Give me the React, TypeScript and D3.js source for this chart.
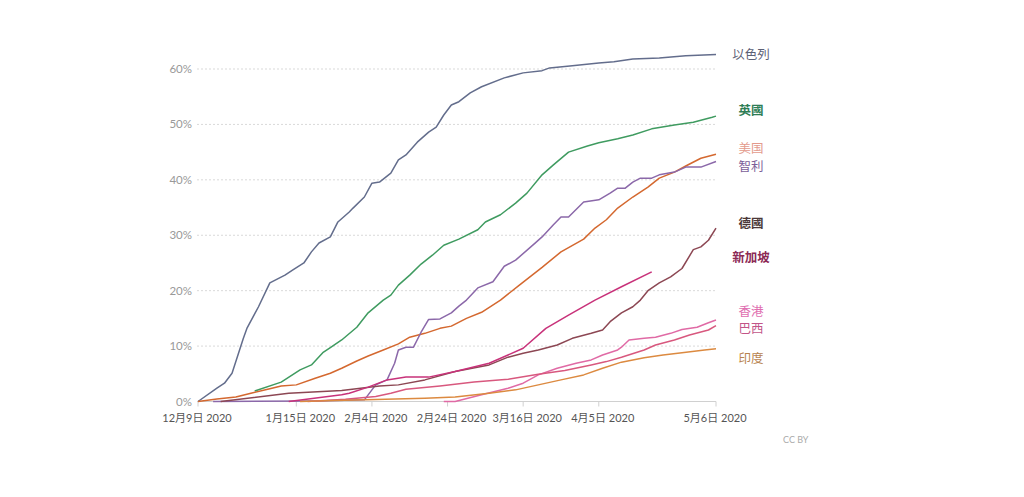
import React from "react";
import * as d3 from "d3";

type Pt = [string, number];

// Share of population that received at least one vaccine dose (%)
const israel: Pt[] = [["2020-12-20",0],["2020-12-25",2.4],["2020-12-27",3.3],["2020-12-29",5.1],["2021-01-01",11.4],["2021-01-02",13.3],["2021-01-05",17.1],["2021-01-08",21.4],["2021-01-12",22.8],["2021-01-14",23.7],["2021-01-17",25.0],["2021-01-19",27.0],["2021-01-21",28.6],["2021-01-24",29.7],["2021-01-26",32.4],["2021-01-29",34.2],["2021-01-30",34.9],["2021-02-02",36.9],["2021-02-04",39.4],["2021-02-06",39.6],["2021-02-09",41.2],["2021-02-11",43.6],["2021-02-13",44.5],["2021-02-16",46.8],["2021-02-19",48.6],["2021-02-21",49.5],["2021-02-23",51.7],["2021-02-25",53.5],["2021-02-27",54.1],["2021-03-02",55.7],["2021-03-05",56.8],["2021-03-11",58.4],["2021-03-16",59.3],["2021-03-21",59.7],["2021-03-23",60.2],["2021-03-29",60.6],["2021-04-05",61.1],["2021-04-09",61.3],["2021-04-14",61.8],["2021-04-21",62.0],["2021-04-28",62.4],["2021-05-06",62.6]];
const uk: Pt[] = [["2021-01-04",1.9],["2021-01-11",3.5],["2021-01-16",5.7],["2021-01-19",6.6],["2021-01-22",8.8],["2021-01-24",9.7],["2021-01-27",11.1],["2021-01-31",13.4],["2021-02-03",16.0],["2021-02-07",18.3],["2021-02-09",19.2],["2021-02-11",21.0],["2021-02-14",22.8],["2021-02-17",24.8],["2021-02-20",26.4],["2021-02-23",28.2],["2021-02-27",29.3],["2021-03-04",31.0],["2021-03-06",32.4],["2021-03-10",33.7],["2021-03-14",35.8],["2021-03-17",37.6],["2021-03-21",40.9],["2021-03-24",42.7],["2021-03-28",45.0],["2021-04-02",46.1],["2021-04-05",46.7],["2021-04-10",47.4],["2021-04-14",48.1],["2021-04-19",49.2],["2021-04-25",49.9],["2021-04-30",50.4],["2021-05-05",51.3],["2021-05-06",51.5]];
const us: Pt[] = [["2020-12-20",0],["2020-12-25",0.45],["2020-12-30",0.8],["2021-01-03",1.5],["2021-01-08",2.3],["2021-01-11",2.8],["2021-01-15",3.0],["2021-01-20",4.2],["2021-01-24",5.1],["2021-01-27",6.0],["2021-01-31",7.3],["2021-02-03",8.2],["2021-02-07",9.3],["2021-02-11",10.4],["2021-02-14",11.6],["2021-02-18",12.3],["2021-02-22",13.2],["2021-02-25",13.6],["2021-03-01",15.0],["2021-03-05",16.1],["2021-03-10",18.3],["2021-03-15",21.0],["2021-03-21",24.2],["2021-03-26",27.0],["2021-04-01",29.3],["2021-04-04",31.3],["2021-04-07",32.8],["2021-04-10",34.9],["2021-04-14",36.9],["2021-04-18",38.7],["2021-04-21",40.3],["2021-04-25",41.4],["2021-04-28",42.5],["2021-05-02",43.9],["2021-05-06",44.6]];
const chile: Pt[] = [["2020-12-24",0],["2021-01-20",0.1],["2021-02-02",0.3],["2021-02-05",3.0],["2021-02-08",3.9],["2021-02-10",6.9],["2021-02-11",9.3],["2021-02-13",9.8],["2021-02-15",9.8],["2021-02-17",12.5],["2021-02-19",14.8],["2021-02-22",14.9],["2021-02-25",16.0],["2021-02-27",17.2],["2021-03-01",18.3],["2021-03-04",20.5],["2021-03-08",21.6],["2021-03-11",24.4],["2021-03-14",25.5],["2021-03-19",28.5],["2021-03-21",29.7],["2021-03-24",31.9],["2021-03-26",33.3],["2021-03-28",33.3],["2021-04-01",36.0],["2021-04-05",36.4],["2021-04-08",37.6],["2021-04-10",38.5],["2021-04-12",38.5],["2021-04-14",39.6],["2021-04-16",40.3],["2021-04-19",40.3],["2021-04-21",40.9],["2021-04-25",41.4],["2021-04-28",42.3],["2021-05-02",42.3],["2021-05-06",43.3]];
const germany: Pt[] = [["2020-12-26",0],["2021-01-13",1.5],["2021-01-27",2.0],["2021-02-06",2.8],["2021-02-11",3.0],["2021-02-18",3.9],["2021-02-26",5.4],["2021-03-07",6.6],["2021-03-12",8.0],["2021-03-16",8.7],["2021-03-20",9.3],["2021-03-25",10.2],["2021-03-29",11.4],["2021-04-03",12.3],["2021-04-06",12.9],["2021-04-08",14.4],["2021-04-11",16.0],["2021-04-14",17.1],["2021-04-16",18.3],["2021-04-18",20.0],["2021-04-21",21.4],["2021-04-24",22.5],["2021-04-27",24.0],["2021-04-30",27.4],["2021-05-02",27.9],["2021-05-04",29.1],["2021-05-06",31.3]];
const singapore: Pt[] = [["2021-01-13",0],["2021-01-27",1.2],["2021-01-29",1.5],["2021-02-03",2.6],["2021-02-08",3.9],["2021-02-13",4.4],["2021-02-19",4.4],["2021-02-26",5.4],["2021-03-07",6.9],["2021-03-16",9.6],["2021-03-22",13.2],["2021-03-28",15.6],["2021-04-04",18.3],["2021-04-11",20.7],["2021-04-19",23.4]];
const hongKong: Pt[] = [["2021-02-23",0],["2021-02-26",0.0],["2021-03-05",1.2],["2021-03-12",2.4],["2021-03-16",3.3],["2021-03-20",4.8],["2021-03-25",6.0],["2021-03-30",6.9],["2021-04-03",7.5],["2021-04-06",8.4],["2021-04-10",9.3],["2021-04-11",9.8],["2021-04-13",11.1],["2021-04-17",11.4],["2021-04-20",11.6],["2021-04-24",12.3],["2021-04-27",13.0],["2021-05-01",13.4],["2021-05-04",14.2],["2021-05-06",14.7]];
const brazil: Pt[] = [["2021-01-18",0],["2021-01-28",0.4],["2021-02-05",0.9],["2021-02-09",1.5],["2021-02-13",2.2],["2021-02-22",2.8],["2021-03-03",3.5],["2021-03-12",4.0],["2021-03-20",4.9],["2021-03-27",5.6],["2021-04-03",6.6],["2021-04-07",7.2],["2021-04-11",8.0],["2021-04-17",9.3],["2021-04-20",10.2],["2021-04-25",11.1],["2021-04-29",12.0],["2021-05-04",12.9],["2021-05-06",13.7]];
const india: Pt[] = [["2021-01-16",0],["2021-01-25",0.2],["2021-02-05",0.35],["2021-02-18",0.6],["2021-02-26",0.8],["2021-03-07",1.5],["2021-03-14",2.1],["2021-03-20",3.0],["2021-03-26",3.9],["2021-04-01",4.8],["2021-04-06",6.0],["2021-04-11",7.1],["2021-04-17",7.9],["2021-04-22",8.4],["2021-04-27",8.8],["2021-05-03",9.3],["2021-05-06",9.5]];

const seriesNames = ["以色列", "英國", "美国", "智利", "德國", "新加坡", "香港", "巴西", "印度"];
const seriesData = [israel, uk, us, chile, germany, singapore, hongKong, brazil, india];

const yTicks = [0, 10, 20, 30, 40, 50, 60];
const xTickDates = ["2020-12-20", "2021-01-15", "2021-02-04", "2021-02-24", "2021-03-16", "2021-04-05", "2021-05-06"];
const xTickLabels = ["12月9日 2020", "1月15日 2020", "2月4日 2020", "2月24日 2020", "3月16日 2020", "4月5日 2020", "5月6日 2020"];

// styles
const lineColors = ["#636d8c", "#3f9b60", "#d4682f", "#8b68a9", "#8c4753", "#c8327a", "#e06aa5", "#d8587e", "#dc8a40"];
const labelColors = ["#5c6075", "#2e7d55", "#e39a8c", "#7b5e99", "#4b3838", "#8c2a55", "#e06eb0", "#c25588", "#b7834f"];
const labelBold = [false, true, false, false, true, true, false, false, false];
const labelNudge = [0, -5, -5.5, 5.5, -4, -14, -8.5, 3.5, 10];

const parse = d3.timeParse("%Y-%m-%d");

export default function App() {
  const x = d3.scaleTime()
    .domain([parse("2020-12-20")!, parse("2021-05-06")!])
    .range([198, 716]);
  const y = d3.scaleLinear().domain([0, 60]).range([401.5, 69]);
  const line = d3.line<Pt>()
    .x((d) => x(parse(d[0])!))
    .y((d) => y(d[1]));

  const font = "Lato, 'Noto Sans CJK SC', sans-serif";
  const cjk = "'Noto Sans CJK TC', 'Noto Sans CJK SC', sans-serif";

  return (
    <svg width={1024} height={497} style={{ position: "absolute", left: 0, top: 0, background: "#fff" }}>
      {yTicks.map((t) => (
        <g key={t}>
          {t > 0 && (
            <line x1={197} x2={716} y1={y(t)} y2={y(t)} stroke="#d9d9d9" strokeWidth={1} strokeDasharray="2,2" />
          )}
          <text x={192} y={y(t)} dy="0.35em" textAnchor="end" fontSize={11.5} fill="#999" fontFamily={font}>
            {t}%
          </text>
        </g>
      ))}
      <line x1={197} x2={716} y1={y(0)} y2={y(0)} stroke="#d0d0d0" strokeWidth={1} />
      {xTickDates.map((d, i) => {
        const xp = x(parse(d)!);
        return (
          <g key={d}>
            <line x1={xp} x2={xp} y1={y(0)} y2={y(0) + 5} stroke="#d0d0d0" />
            <text x={xp + (i === 0 || i === xTickDates.length - 1 ? -1 : 4)} y={422} textAnchor="middle" fontSize={11} fill="#555" fontFamily={font}>
              {xTickLabels[i]}
            </text>
          </g>
        );
      })}
      {seriesData.map((s, i) => (
        <path key={seriesNames[i]} d={line(s) || ""} fill="none" stroke={lineColors[i]} strokeWidth={1.5} strokeLinejoin="round" />
      ))}
      {seriesData.map((s, i) => {
        const last = s[s.length - 1];
        return (
          <text key={seriesNames[i]} x={751} y={y(last[1]) + labelNudge[i]} dy="0.35em" textAnchor="middle"
            fontSize={12.5} fontWeight={labelBold[i] ? 700 : 400} fill={labelColors[i]} fontFamily={cjk}>
            {seriesNames[i]}
          </text>
        );
      })}
      <text x={783} y={443} fontSize={9} fill="#aaa" fontFamily={font}>CC BY</text>
    </svg>
  );
}
